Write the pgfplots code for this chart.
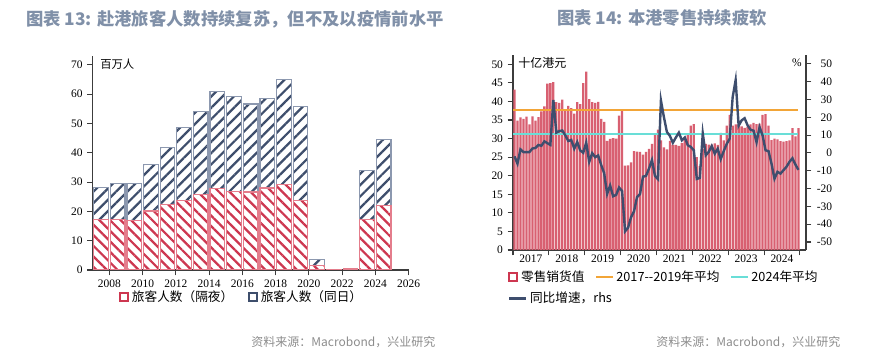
\documentclass[border=0pt]{standalone}
\usepackage{fontspec}
\setmainfont{Liberation Serif}
\newfontfamily\cjk{Noto Sans CJK SC}
\usepackage{pgfplots}
\usepackage{pgfplotstable}
\pgfplotsset{compat=1.18}
\usetikzlibrary{patterns.meta}

\definecolor{ttl}{RGB}{128,144,168}
\definecolor{src}{RGB}{140,140,140}
\definecolor{redh}{RGB}{205,55,80}
\definecolor{redb}{RGB}{228,125,140}
\definecolor{blueh}{RGB}{62,78,108}
\definecolor{blueb}{RGB}{140,152,175}
\definecolor{barfill}{RGB}{216,96,113}
\definecolor{orng}{RGB}{242,165,55}
\definecolor{cyn}{RGB}{105,222,215}
\definecolor{yoy}{RGB}{62,78,110}
\definecolor{axc}{RGB}{60,60,60}

\pgfplotstableread{
val yoy
43.2 -1.9
34.8 -6.0
35.7 2.0
35.3 0.5
35.9 0.5
33.8 0.5
36.0 2.5
34.8 2.8
35.8 4.5
37.3 4.0
38.7 6.5
44.8 5.5
44.9 4.5
45.2 29.8
39.8 11.4
39.6 12.3
40.5 12.6
37.8 9.9
38.8 6.7
38.2 7.3
36.7 2.4
39.8 6.1
39.3 1.4
44.9 0.1
48.0 5.8
40.6 -5.0
39.8 -0.1
39.6 -2.4
39.9 -1.4
35.3 -6.7
34.5 -11.4
29.4 -23.0
29.9 -18.3
30.1 -24.3
30.0 -23.6
36.2 -19.4
37.7 -21.4
22.7 -44.0
22.8 -42.0
23.6 -36.1
26.6 -32.8
26.5 -24.8
26.4 -23.1
25.7 -13.3
26.4 -12.9
27.2 -8.8
28.6 -4.0
31.0 -12.9
32.4 -14.7
29.5 29.5
27.6 20.1
27.1 11.8
29.4 9.6
28.3 5.7
28.3 8.7
28.0 11.4
28.8 7.1
30.0 8.7
31.2 4.3
33.5 3.4
33.9 1.5
25.0 -14.6
22.6 -14.0
27.3 11.0
28.6 -1.3
28.4 0.6
28.4 3.9
28.7 -0.4
28.3 2.4
31.5 -3.5
29.5 1.0
33.5 5.0
36.4 8.0
33.5 31.3
33.8 40.9
33.8 15.3
33.3 18.3
32.9 19.5
33.2 15.5
33.8 13.0
34.2 12.5
33.9 6.0
34.0 14.5
36.4 9.9
36.6 1.5
33.5 1.0
29.6 -6.0
30.0 -14.5
29.8 -10.6
29.3 -11.6
29.2 -9.7
29.3 -7.8
29.5 -5.0
32.8 -3.0
30.6 -6.5
32.8 -9.5
}\retail

\pgfplotsset{
  common/.style={
    scale only axis,
    axis line style={axc, line width=0.8pt, -},
    tick align=outside, major tick length=4pt,
    tick style={axc, line width=0.8pt},
    minor tick num=0,
    /pgf/number format/assume math mode=true,
    /pgf/number format/1000 sep={},
    ticklabel style={font=\fontsize{8.6}{10}\selectfont},
  }
}

\begin{document}
\begin{tikzpicture}
\path[use as bounding box] (0,0) rectangle (659.25pt,264.75pt);

% ---------- Left chart ----------
\begin{axis}[common,
  at={(69.5pt,62.25pt)}, anchor=south west,
  width=237pt, height=160.5pt,
  xmin=2007, xmax=2026, ymin=0, ymax=73,
  axis x line*=bottom, axis y line*=left,
  xtick={2008,2010,...,2026},
  ytick={0,10,...,70},
  ybar stacked, bar width=0.88,
  legend columns=2,
  legend style={draw=none, fill=none, at={(0.083,-0.126)}, anchor=west, inner sep=0pt,
    font=\cjk\fontsize{9.5}{11}\selectfont,
    /tikz/every even column/.append style={column sep=9pt}},
]
\addplot[draw=redb, line width=0.9pt,
  pattern={Lines[angle=-45,distance=5.6pt,line width=1.7pt]}, pattern color=redh,
  legend image code/.code={\draw[draw=redh, line width=1.6pt, fill=white] (0pt,-3pt) rectangle (6pt,3pt);}]
  coordinates {(2007.5,17.1) (2008.5,17.3) (2009.5,17.0) (2010.5,20.1) (2011.5,22.3) (2012.5,23.8)
  (2013.5,25.7) (2014.5,27.8) (2015.5,26.7) (2016.5,26.6) (2017.5,28.0) (2018.5,29.3) (2019.5,23.8)
  (2020.5,1.4) (2021.5,0.1) (2022.5,0.6) (2023.5,17.1) (2024.5,21.9)};
\addplot[draw=blueb, line width=0.9pt,
  pattern={Lines[angle=45,distance=6pt,line width=1.7pt]}, pattern color=blueh,
  legend image code/.code={\draw[draw=blueh, line width=1.6pt, fill=white] (0pt,-3pt) rectangle (6pt,3pt);}]
  coordinates {(2007.5,11.1) (2008.5,12.1) (2009.5,12.5) (2010.5,15.8) (2011.5,19.5) (2012.5,24.7)
  (2013.5,28.5) (2014.5,33.0) (2015.5,32.5) (2016.5,30.0) (2017.5,30.4) (2018.5,35.8) (2019.5,32.0)
  (2020.5,2.1) (2021.5,0.0) (2022.5,0.0) (2023.5,16.9) (2024.5,22.5)};
\legend{旅客人数（隔夜）, 旅客人数（同日）}
\end{axis}

% ---------- Right chart, left axis ----------
\begin{axis}[common,
  at={(384.75pt,77.25pt)}, anchor=south west,
  width=219.75pt, height=146.25pt,
  xmin=2017, xmax=2025.17, ymin=0, ymax=52.5,
  axis x line*=bottom, axis y line*=left,
  xtick={2017,2018,...,2025}, xticklabels={},
  extra x ticks={2017.5,2018.5,2019.5,2020.5,2021.5,2022.5,2023.5,2024.5},
  extra x tick labels={2017,2018,2019,2020,2021,2022,2023,2024},
  extra x tick style={major tick length=0pt},
  ytick={0,5,...,50},
  legend columns=3,
  legend style={draw=none, fill=none, at={(-0.017,-0.14)}, anchor=west, inner sep=0pt,
    font=\cjk\fontsize{9.5}{11}\selectfont,
    /tikz/every even column/.append style={column sep=6pt}},
]
\addplot[ybar, bar width=0.064, fill=barfill, draw=none,
  legend image code/.code={\draw[draw=redh, line width=1.6pt, fill=white] (0pt,-3pt) rectangle (6pt,3pt);}]
  table[x expr=2017+(\coordindex+0.5)/12, y=val] {\retail};
\addplot[orng, line width=1.5pt, sharp plot,
  legend image code/.code={\draw[orng, line width=1.5pt] (0pt,0pt) -- (12.5pt,0pt);}]
  coordinates {(2017,37.8) (2024.96,37.8)};
\addplot[cyn, line width=1.5pt, sharp plot,
  legend image code/.code={\draw[cyn, line width=1.5pt] (0pt,0pt) -- (12.5pt,0pt);}]
  coordinates {(2017,31.3) (2024.96,31.3)};
\legend{零售销货值, 2017-{}-2019年平均, 2024年平均}
\end{axis}

% ---------- Right chart, right axis ----------
\begin{axis}[common,
  at={(384.75pt,77.25pt)}, anchor=south west,
  width=219.75pt, height=146.25pt,
  xmin=2017, xmax=2025.17, ymin=-54.5, ymax=55,
  axis x line=none, axis y line*=right,
  ytick={-50,-40,...,50},
  yticklabel style={text width=12pt, align=right},
  legend style={draw=none, fill=none, at={(-0.017,-0.248)}, anchor=west, inner sep=0pt,
    font=\cjk\fontsize{9.5}{11}\selectfont},
]
\addplot[yoy, line width=1.8pt,
  legend image code/.code={\draw[yoy, line width=1.8pt] (0pt,0pt) -- (12.5pt,0pt);}]
  table[x expr=2017+(\coordindex+0.5)/12, y=yoy] {\retail};
\legend{同比增速，rhs}
\end{axis}

% ---------- texts ----------
\node[font=\cjk\bfseries\fontsize{13}{15}\selectfont, text=ttl] at (176.25pt,250.5pt) {图表 13: 赴港旅客人数持续复苏，但不及以疫情前水平};
\node[font=\cjk\bfseries\fontsize{13}{15}\selectfont, text=ttl] at (496.5pt,251.25pt) {图表 14: 本港零售持续疲软};
\node[font=\cjk\fontsize{9}{10}\selectfont, text=src, anchor=east] at (330pt,8.25pt) {资料来源：Macrobond，兴业研究};
\node[font=\cjk\fontsize{9}{10}\selectfont, text=src, anchor=east] at (633.75pt,8.25pt) {资料来源：Macrobond，兴业研究};
\node[font=\cjk\fontsize{8.5}{10}\selectfont, anchor=west, inner sep=0pt] at (75pt,216.75pt) {百万人};
\node[font=\cjk\fontsize{9}{10}\selectfont, anchor=west, inner sep=0pt] at (388.5pt,217.5pt) {十亿港元};
\node[font=\fontsize{8.6}{10}\selectfont, inner sep=0pt] at (597.75pt,217.5pt) {\%};
\end{tikzpicture}
\end{document}
